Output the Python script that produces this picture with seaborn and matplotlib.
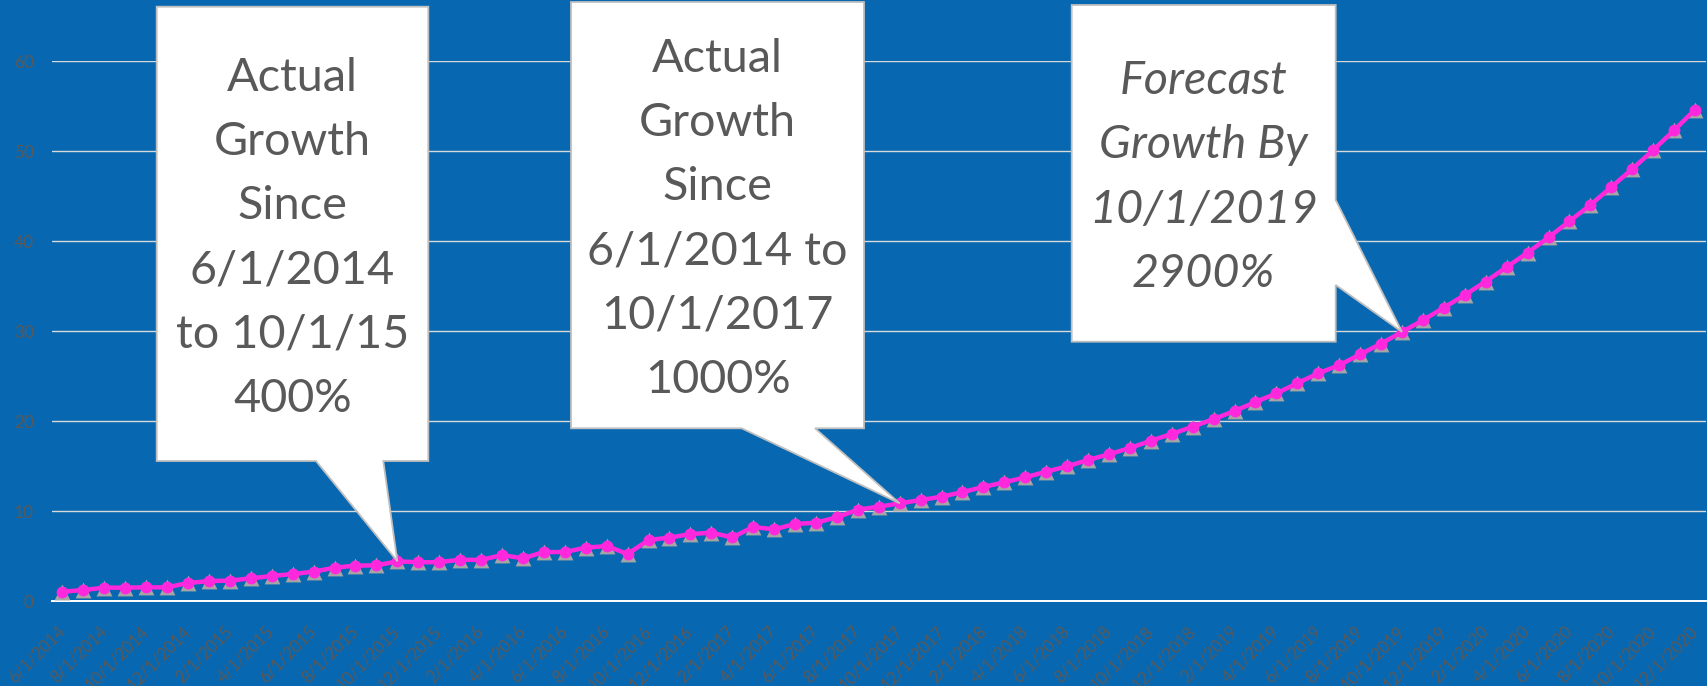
import numpy as np
import pandas as pd
import matplotlib
matplotlib.use("Agg")
import matplotlib.pyplot as plt
import seaborn as sns
from matplotlib.patches import Polygon

# ---------------- data ----------------
values = [1.03, 1.22, 1.48, 1.48, 1.52, 1.52, 2.00, 2.22, 2.26, 2.52,
          2.78, 3.00, 3.26, 3.70, 3.93, 3.96, 4.41, 4.30, 4.32, 4.58,
          4.56, 5.11, 4.74, 5.44, 5.44, 5.93, 6.11, 5.22, 6.78, 7.04,
          7.44, 7.59, 7.07, 8.22, 7.96, 8.56, 8.70, 9.30, 10.15, 10.48,
          10.85, 11.22, 11.59, 12.10, 12.67, 13.19, 13.74, 14.37, 14.96, 15.67,
          16.30, 17.00, 17.81, 18.56, 19.37, 20.22, 21.11, 22.11, 23.07, 24.20,
          25.30, 26.20, 27.40, 28.60, 29.90, 31.20, 32.60, 34.00, 35.50, 37.10,
          38.70, 40.40, 42.20, 44.00, 46.00, 48.00, 50.10, 52.30, 54.60]
dates = pd.date_range("2014-06-01", periods=len(values), freq="MS")
date_labels = [f"{d.month}/1/{d.year}" for d in dates]
y_ticks = [0, 10, 20, 30, 40, 50, 60]

callout_texts = [
    ["Actual", "Growth", "Since", "6/1/2014", "to 10/1/15", "400%"],
    ["Actual", "Growth", "Since", "6/1/2014 to", "10/1/2017", "1000%"],
    ["Forecast", "Growth By", "10/1/2019", "2900%"],
]
callout_targets = ["10/1/2015", "10/1/2017", "10/1/2019"]

# ---------------- style ----------------
W, H = 1707, 686
BG = "#0768B1"
TXT = "#595959"
MAGENTA = "#FF28DC"
GRAY = "#A5A5A5"

sns.set_style("white")
plt.rcParams["font.family"] = ["Lato", "DejaVu Sans"]

fig = plt.figure(figsize=(W / 100, H / 100), dpi=100, facecolor=BG)
ax = fig.add_axes([52 / W, (H - 601) / H, (1705.5 - 52) / W, 540 / H])
ax.set_facecolor(BG)

idx = np.arange(len(values))
df = pd.DataFrame({"i": idx, "v": values})

sns.scatterplot(data=df, x="i", y="v", marker="^", s=130, color=GRAY,
                linewidth=0, ax=ax, zorder=3)
sns.lineplot(data=df, x="i", y="v", color=MAGENTA, linewidth=3.2,
             marker="o", markersize=8.5, markeredgewidth=0, ax=ax, zorder=4)

ax.set_xlim(-0.5, len(values) - 0.5)
ax.set_ylim(0, 60)
ax.set_xlabel("")
ax.set_ylabel("")

# y axis
ax.set_yticks(y_ticks)
ax.set_yticklabels([str(t) for t in y_ticks], color=TXT, fontsize=12.5)
ax.tick_params(axis="y", length=0, pad=13)
ax.yaxis.grid(True, color="#D9D9D9", linewidth=1.0)
ax.xaxis.grid(False)
ax.set_axisbelow(True)

# x axis: tick marks between every two categories, labels at category centres
ax.set_xticks(np.arange(-0.5, len(values) - 0.5, 2))
ax.set_xticklabels([])
ax.tick_params(axis="x", which="major", length=4, width=1.0, color="white",
               direction="out")
ax.set_xticks(idx[::2], minor=True)
ax.set_xticklabels(date_labels[::2], minor=True, rotation=45, ha="right",
                   va="center", rotation_mode="anchor", color=TXT, fontsize=12)
ax.tick_params(axis="x", which="minor", length=0, pad=20)

for s in ["top", "right", "left"]:
    ax.spines[s].set_visible(False)
ax.spines["bottom"].set_color("white")
ax.spines["bottom"].set_linewidth(1.4)


# ---------------- callouts ----------------
def px2data(px, py):
    return ax.transData.inverted().transform((px, H - py))


def tip_of(label):
    k = date_labels.index(label)
    return (idx[k], values[k])


boxes = [
    dict(shape=[(156.7, 6.7), (428.3, 6.7), (428.3, 461), (383.3, 461), "TIP",
                (316, 461), (156.7, 461)],
         cx=292.5, base=[90.7, 155, 219.3, 283.6, 347.9, 412.2], italic=False),
    dict(shape=[(571, 2), (864, 2), (864, 428.3), (815, 428.3), "TIP",
                (741.7, 428.3), (571, 428.3)],
         cx=717.5, base=[71.7, 136, 200.3, 264.6, 328.9, 393.2], italic=False),
    dict(shape=[(1071.7, 5), (1335.7, 5), (1335.7, 200), "TIP", (1335.7, 285),
                (1335.7, 341.7), (1071.7, 341.7)],
         cx=1203.7, base=[94, 158.3, 222.6, 286.9], italic=True),
]

for box, lines, target in zip(boxes, callout_texts, callout_targets):
    verts = []
    for p in box["shape"]:
        if p == "TIP":
            verts.append(tip_of(target))
        else:
            verts.append(px2data(*p))
    poly = Polygon(verts, closed=True, facecolor="white", edgecolor="#BFBFBF",
                   linewidth=1.3, clip_on=False, zorder=6)
    ax.add_patch(poly)
    for line, b in zip(lines, box["base"]):
        fig.text(box["cx"] / W, 1 - b / H, line, ha="center", va="baseline",
                 fontsize=33.7, color=TXT,
                 style="italic" if box["italic"] else "normal", zorder=7)

fig.savefig("out.png", dpi=100, facecolor=BG)
